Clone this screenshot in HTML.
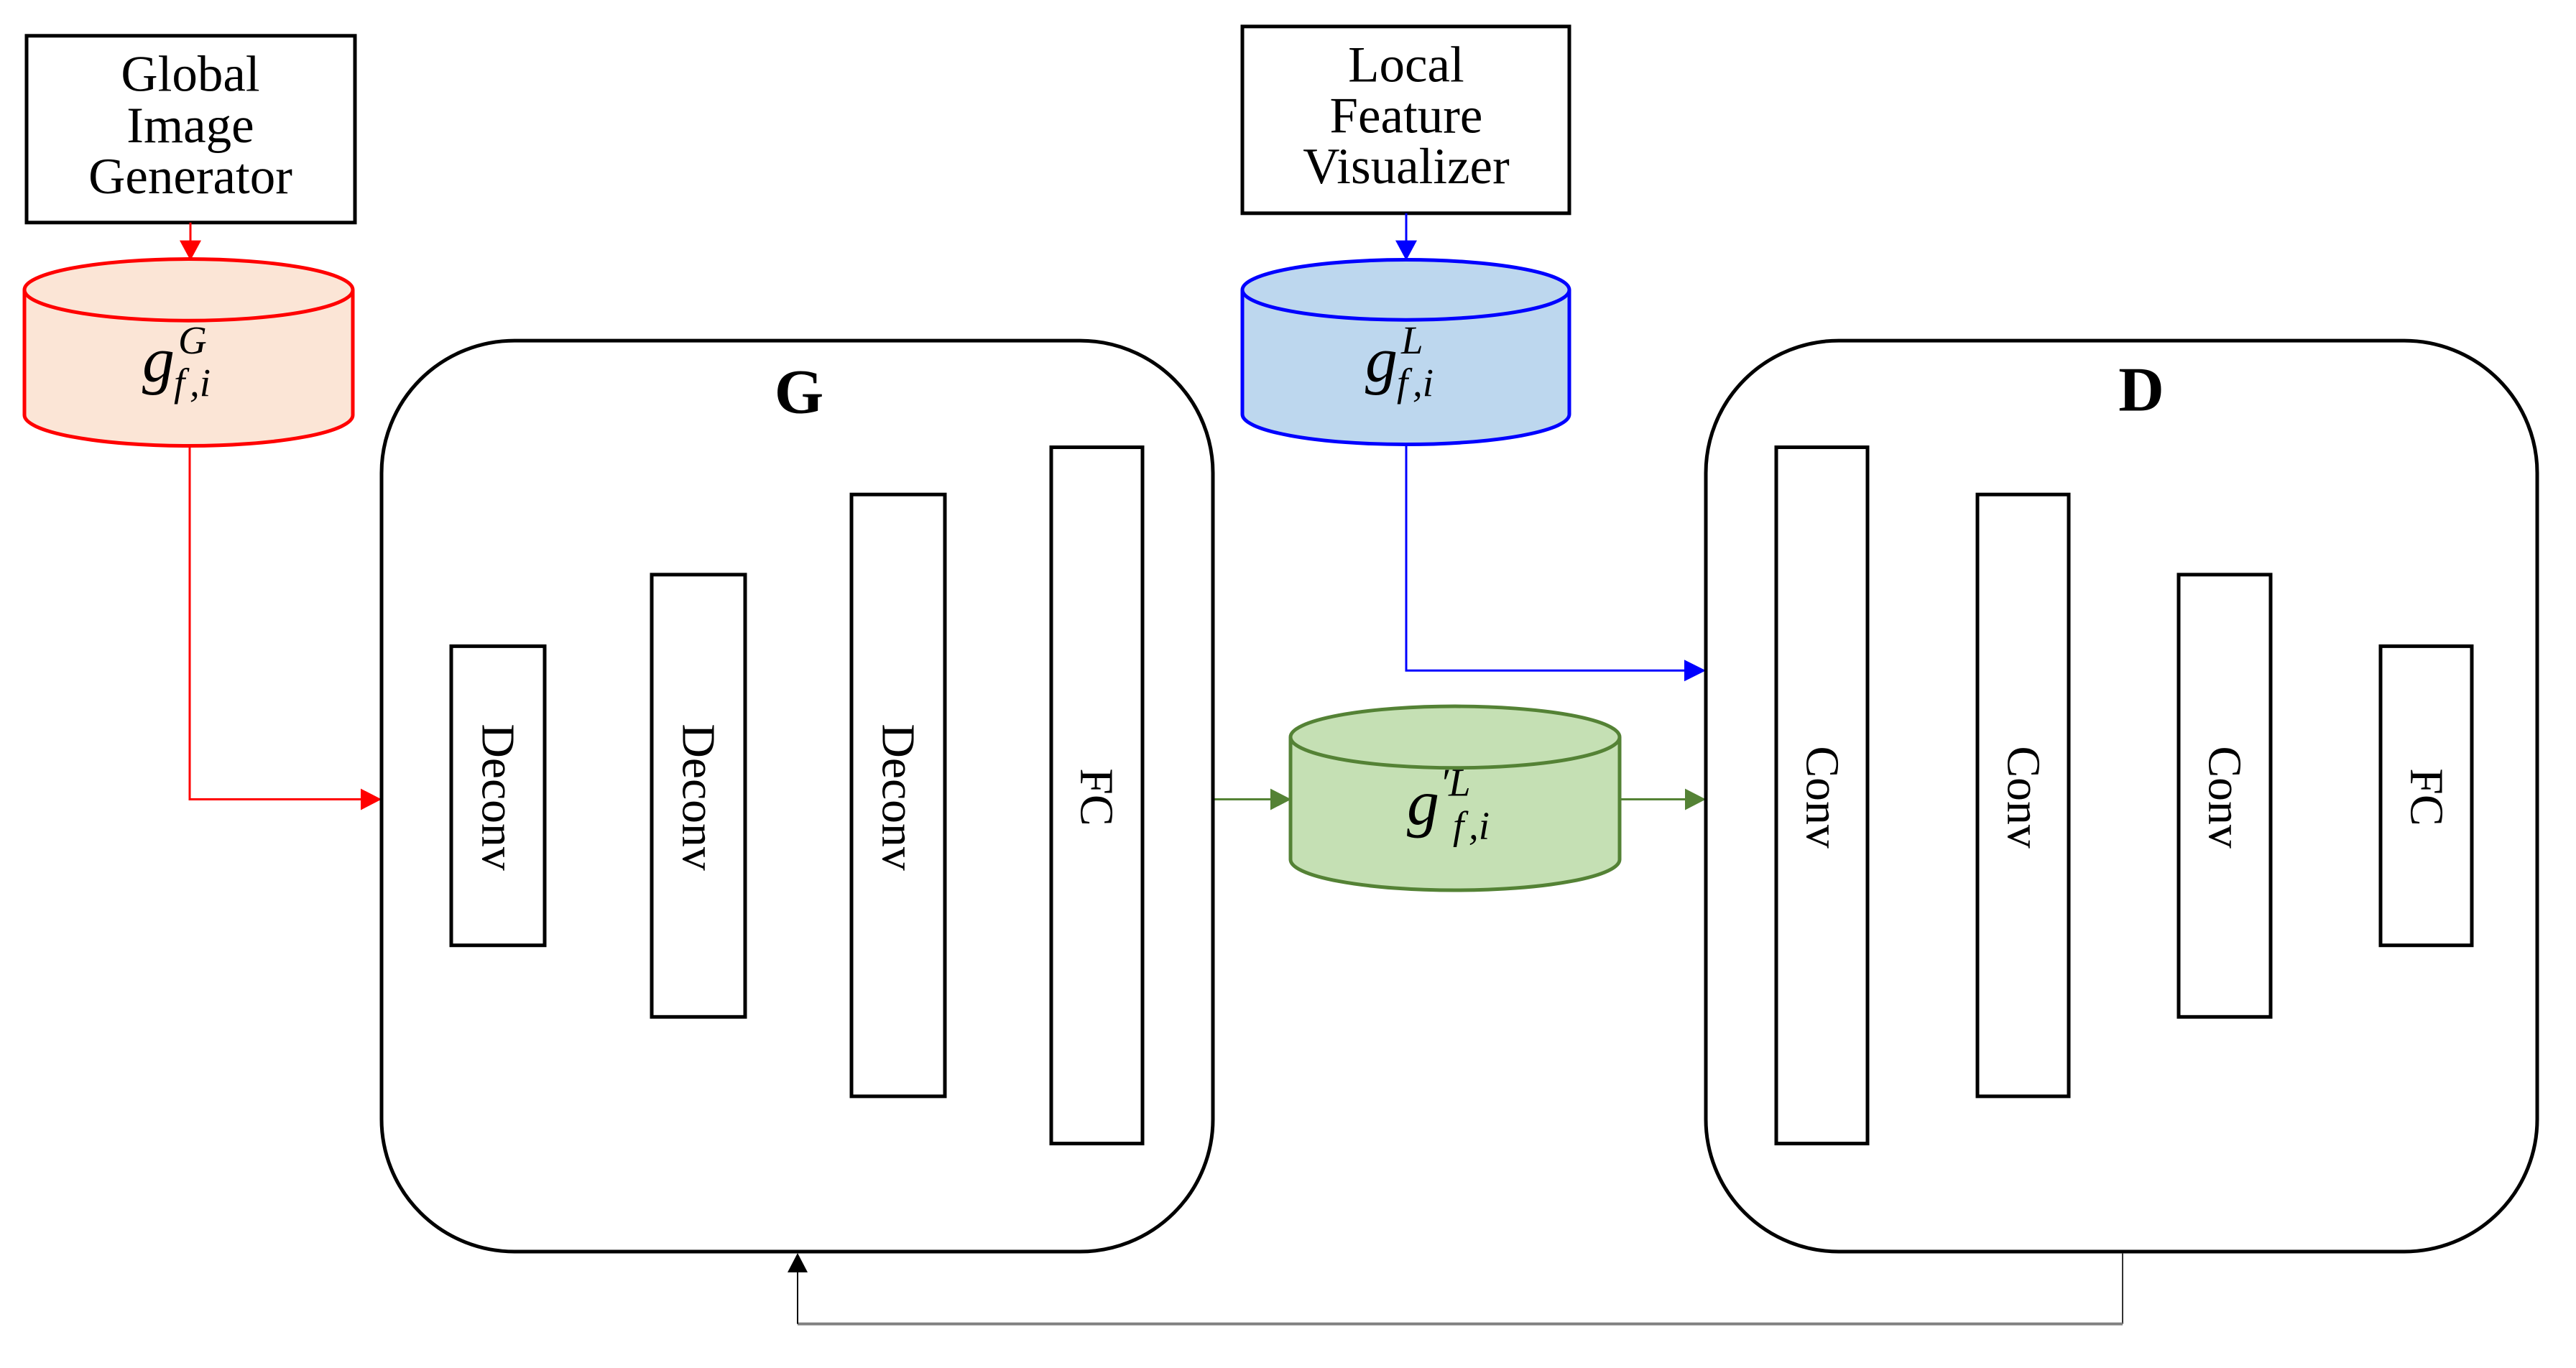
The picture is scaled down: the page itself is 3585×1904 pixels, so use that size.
<!DOCTYPE html>
<html><head><meta charset="utf-8"><style>
html,body{margin:0;padding:0;background:#fff;}
svg{display:block;}
text{font-family:"Liberation Serif",serif;}
</style></head><body>
<svg width="3585" height="1904" viewBox="0 0 3585 1904" xmlns="http://www.w3.org/2000/svg">
<rect width="3585" height="1904" fill="#fff"/>
<g transform="scale(1,0.996)">
<!-- Global box -->
<rect x="37" y="50" width="457" height="261" fill="#fff" stroke="#000" stroke-width="5"/>
<text x="265" y="127" font-size="71" text-anchor="middle">Global</text>
<text x="265" y="199" font-size="71" text-anchor="middle">Image</text>
<text x="265" y="270" font-size="71" text-anchor="middle">Generator</text>
<!-- Local box -->
<rect x="1729" y="37" width="455" height="261" fill="#fff" stroke="#000" stroke-width="5"/>
<text x="1957" y="114" font-size="71" text-anchor="middle">Local</text>
<text x="1957" y="185" font-size="71" text-anchor="middle">Feature</text>
<text x="1957" y="256" font-size="71" text-anchor="middle">Visualizer</text>

<!-- red connectors -->
<line x1="265" y1="311" x2="265" y2="340" stroke="#f00" stroke-width="3"/>
<polygon points="250,336 280,336 265,364" fill="#f00"/>
<polyline points="264,623 264,1117 505,1117" fill="none" stroke="#f00" stroke-width="3"/>
<polygon points="502,1102 502,1132 531,1117" fill="#f00"/>
<!-- red cylinder -->
<path d="M34,405 L34,580 A228.5,43 0 0 0 491,580 L491,405" fill="#fbe5d6" stroke="#f00" stroke-width="5"/>
<ellipse cx="262.5" cy="405" rx="228.5" ry="43" fill="#fbe5d6" stroke="#f00" stroke-width="5"/>
<text x="198" y="533" font-size="90" font-style="italic">g</text>
<text x="248" y="494" font-size="55" font-style="italic">G</text>
<text x="242" y="553" font-size="55" font-style="italic">f</text>
<text x="264" y="553" font-size="55" font-style="italic">,i</text>

<!-- blue connectors -->
<line x1="1957" y1="298" x2="1957" y2="340" stroke="#00f" stroke-width="3"/>
<polygon points="1942,336 1972,336 1957,364" fill="#00f"/>
<polyline points="1957,621 1957,937 2348,937" fill="none" stroke="#00f" stroke-width="3"/>
<polygon points="2344,922 2344,952 2374,937" fill="#00f"/>
<!-- blue cylinder -->
<path d="M1729,405 L1729,579 A227.5,42 0 0 0 2184,579 L2184,405" fill="#bdd7ee" stroke="#00f" stroke-width="5"/>
<ellipse cx="1956.5" cy="405" rx="227.5" ry="42" fill="#bdd7ee" stroke="#00f" stroke-width="5"/>
<text x="1900" y="533" font-size="90" font-style="italic">g</text>
<text x="1950" y="494" font-size="55" font-style="italic">L</text>
<text x="1944" y="553" font-size="55" font-style="italic">f</text>
<text x="1966" y="553" font-size="55" font-style="italic">,i</text>

<!-- green connectors -->
<line x1="1688" y1="1117" x2="1772" y2="1117" stroke="#548235" stroke-width="3"/>
<polygon points="1768,1102 1768,1132 1797,1117" fill="#548235"/>
<line x1="2254" y1="1117" x2="2350" y2="1117" stroke="#548235" stroke-width="3"/>
<polygon points="2345,1102 2345,1132 2374,1117" fill="#548235"/>
<!-- green cylinder -->
<path d="M1796,1030 L1796,1201 A229,43 0 0 0 2254,1201 L2254,1030" fill="#c5e0b4" stroke="#548235" stroke-width="5"/>
<ellipse cx="2025" cy="1030" rx="229" ry="43" fill="#c5e0b4" stroke="#548235" stroke-width="5"/>
<text x="1958" y="1152" font-size="90" font-style="italic">g</text>
<text x="2004" y="1112" font-size="55" font-style="italic">′L</text>
<text x="2022" y="1172" font-size="55" font-style="italic">f</text>
<text x="2044" y="1172" font-size="55" font-style="italic">,i</text>

<!-- G box -->
<rect x="531" y="476" width="1157" height="1273" rx="185" ry="185" fill="none" stroke="#000" stroke-width="5"/>
<text x="1112" y="577" font-size="88" font-weight="bold" text-anchor="middle">G</text>
<rect x="628" y="903" width="130" height="418" fill="none" stroke="#000" stroke-width="5"/>
<rect x="907" y="803" width="130" height="618" fill="none" stroke="#000" stroke-width="5"/>
<rect x="1185" y="691" width="130" height="841" fill="none" stroke="#000" stroke-width="5"/>
<rect x="1463" y="625" width="127" height="973" fill="none" stroke="#000" stroke-width="5"/>
<text transform="translate(693,1114) rotate(90)" font-size="66" text-anchor="middle" dominant-baseline="central">Deconv</text>
<text transform="translate(972,1114) rotate(90)" font-size="66" text-anchor="middle" dominant-baseline="central">Deconv</text>
<text transform="translate(1250,1114) rotate(90)" font-size="66" text-anchor="middle" dominant-baseline="central">Deconv</text>
<text transform="translate(1526,1114) rotate(90)" font-size="66" text-anchor="middle" dominant-baseline="central">FC</text>

<!-- D box -->
<rect x="2374" y="476" width="1157" height="1273" rx="185" ry="185" fill="none" stroke="#000" stroke-width="5"/>
<text x="2980" y="574" font-size="88" font-weight="bold" text-anchor="middle">D</text>
<rect x="2472" y="625" width="127" height="973" fill="none" stroke="#000" stroke-width="5"/>
<rect x="2752" y="691" width="127" height="841" fill="none" stroke="#000" stroke-width="5"/>
<rect x="3032" y="803" width="128" height="618" fill="none" stroke="#000" stroke-width="5"/>
<rect x="3313" y="903" width="127" height="418" fill="none" stroke="#000" stroke-width="5"/>
<text transform="translate(2536,1114) rotate(90)" font-size="66" text-anchor="middle" dominant-baseline="central">Conv</text>
<text transform="translate(2816,1114) rotate(90)" font-size="66" text-anchor="middle" dominant-baseline="central">Conv</text>
<text transform="translate(3096,1114) rotate(90)" font-size="66" text-anchor="middle" dominant-baseline="central">Conv</text>
<text transform="translate(3377,1114) rotate(90)" font-size="66" text-anchor="middle" dominant-baseline="central">FC</text>

<!-- feedback line -->
<line x1="2954" y1="1751" x2="2954" y2="1850" stroke="#333" stroke-width="2"/>
<line x1="1110" y1="1850" x2="2954" y2="1850" stroke="#808080" stroke-width="4"/>
<line x1="1110" y1="1850" x2="1110" y2="1775" stroke="#000" stroke-width="2"/>
<polygon points="1096,1778 1124,1778 1110,1751" fill="#000"/>
</g>
</svg>
</body></html>
